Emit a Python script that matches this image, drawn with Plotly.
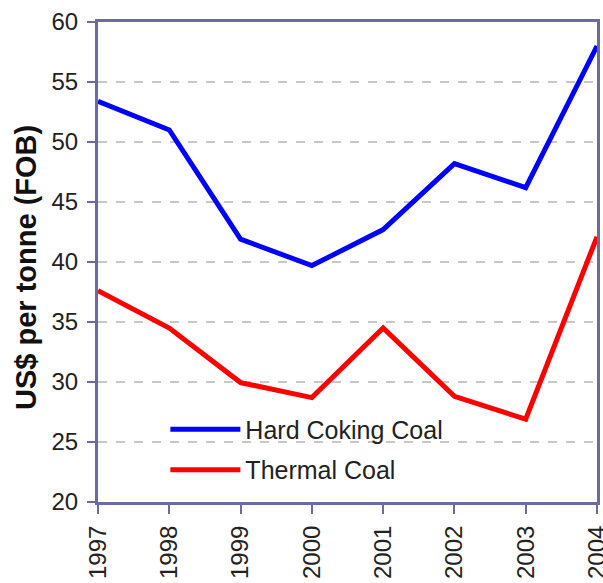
import plotly.graph_objects as go

years = [1997, 1998, 1999, 2000, 2001, 2002, 2003, 2004]
hard_coking = [53.4, 51.0, 41.9, 39.7, 42.7, 48.2, 46.2, 58.0]
thermal = [37.6, 34.5, 29.95, 28.7, 34.5, 28.8, 26.9, 42.1]
tick_labels = [str(y) for y in years]
y_title = "US$ per tonne (FOB)"

axis_color = "#6b6b9f"
text_color = "#222222"
font_family = "Liberation Sans, Arial, sans-serif"

fig = go.Figure()
fig.add_trace(go.Scatter(x=years, y=hard_coking, mode="lines", name="Hard Coking Coal",
                         line=dict(color="#0000ff", width=5), legendgroup="a"))
fig.add_trace(go.Scatter(x=years, y=thermal, mode="lines", name="Thermal Coal",
                         line=dict(color="#ff0000", width=5), legendgroup="b"))

fig.add_annotation(text="<b>" + y_title + "</b>", xref="paper", yref="paper",
                   x=0, y=0.5, xanchor="center", yanchor="middle", xshift=-72, yshift=-6,
                   textangle=-90, showarrow=False,
                   font=dict(family=font_family, size=29, color="#111111"))

fig.update_layout(
    width=603, height=583,
    margin=dict(l=98, r=6, t=22, b=81, pad=0),
    paper_bgcolor="white", plot_bgcolor="white",
    font=dict(family=font_family, size=24, color=text_color),
    legend=dict(x=0.135, y=0.199, xanchor="left", yanchor="top",
                bgcolor="rgba(0,0,0,0)", font=dict(size=25, color=text_color),
                traceorder="grouped", tracegroupgap=5, itemwidth=70),
    xaxis=dict(range=[1997, 2004], tickvals=years, ticktext=tick_labels, tickangle=-90,
               showline=True, linecolor=axis_color, linewidth=3, mirror=True,
               ticks="outside", ticklen=9, tickcolor=axis_color, tickwidth=2,
               ticklabelstandoff=2, ticklabeloverflow="allow",
               showgrid=False, zeroline=False, automargin=False,
               tickfont=dict(size=24, color=text_color)),
    yaxis=dict(range=[20, 60], dtick=5, showline=True, linecolor=axis_color, linewidth=3,
               mirror=True, ticks="outside", ticklen=8, tickcolor=axis_color, tickwidth=2,
               ticklabelstandoff=4, ticklabeloverflow="allow",
               showgrid=True, gridcolor="#c8c8c8", griddash="dash", gridwidth=1.5,
               zeroline=False, automargin=False, tickfont=dict(size=24, color=text_color)),
)

fig.write_html("out.html", config={"displayModeBar": False},
               post_script="document.body.style.margin='0';document.body.style.overflow='hidden';")
